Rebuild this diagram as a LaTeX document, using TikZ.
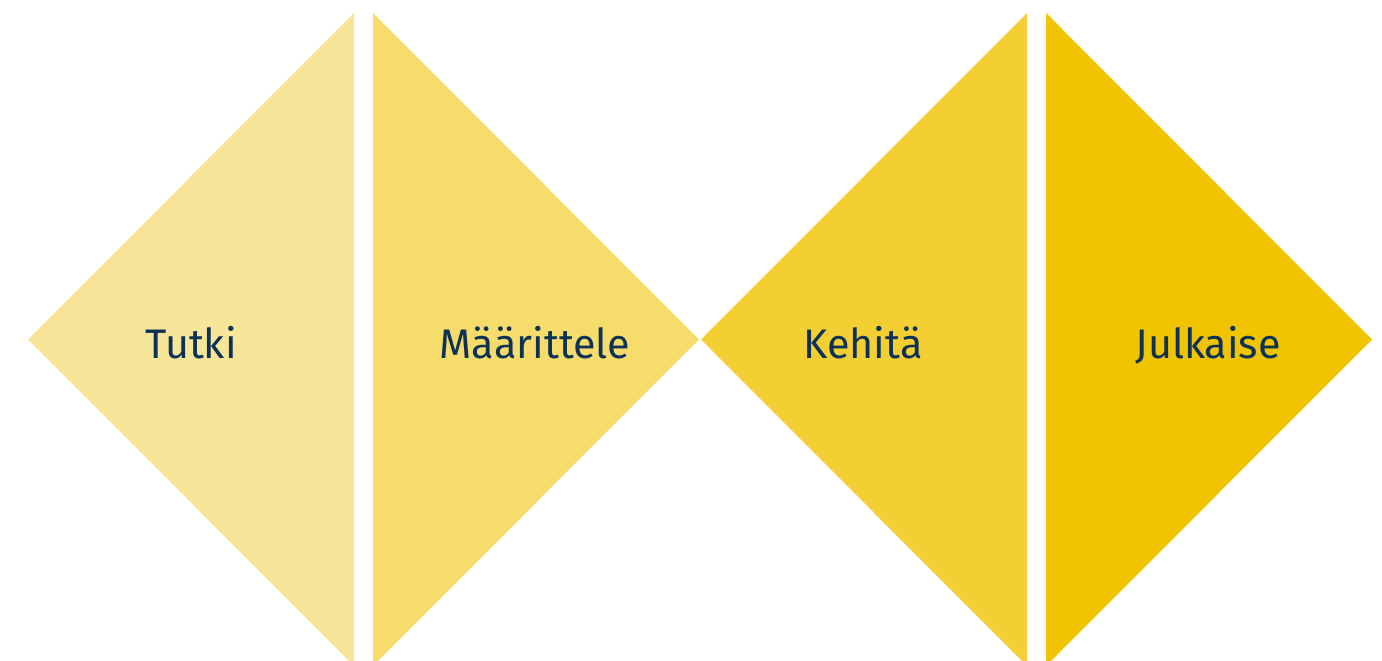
\documentclass[tikz,border=0pt]{standalone}
\usepackage{fontspec}
\setmainfont{Fira Sans}
\usepackage{tikz}

\definecolor{vaihe1}{HTML}{F7E59A}
\definecolor{vaihe2}{HTML}{F6DC6A}
\definecolor{vaihe3}{HTML}{F4CF33}
\definecolor{vaihe4}{HTML}{F0C400}
\definecolor{tummasin}{HTML}{0D3256}

\begin{document}
\begin{tikzpicture}[x=0.02cm, y=-0.02cm,
        vaihe/.style={anchor=base, text=tummasin, font=\fontsize{23.5}{28}\selectfont}]
        \useasboundingbox (0,0) rectangle (1382,661);
        \clip (0,0) rectangle (1382,661);
        % kärjet
        \coordinate (A) at (28,339.5);
        \coordinate (B) at (699,339.5);
        \coordinate (C) at (701,339.5);
        \coordinate (D) at (1372,339.5);
        % kolmiot
        \fill[vaihe1] (354,13) -- (A) -- (354,666) -- cycle;
        \fill[vaihe2] (373,13) -- (B) -- (373,666) -- cycle;
        \fill[vaihe3] (1027,13) -- (C) -- (1027,666) -- cycle;
        \fill[vaihe4] (1046,13) -- (D) -- (1046,666) -- cycle;
        % tekstit
        \node[vaihe] (tutki) at (191,359) {Tutki};
        \node[vaihe] (maarittele) at (535,359) {Määrittele};
        \node[vaihe] (kehita) at (863,359) {Kehitä};
        \node[vaihe] (julkaise) at (1208,359) {Julkaise};
    \end{tikzpicture}
\end{document}
